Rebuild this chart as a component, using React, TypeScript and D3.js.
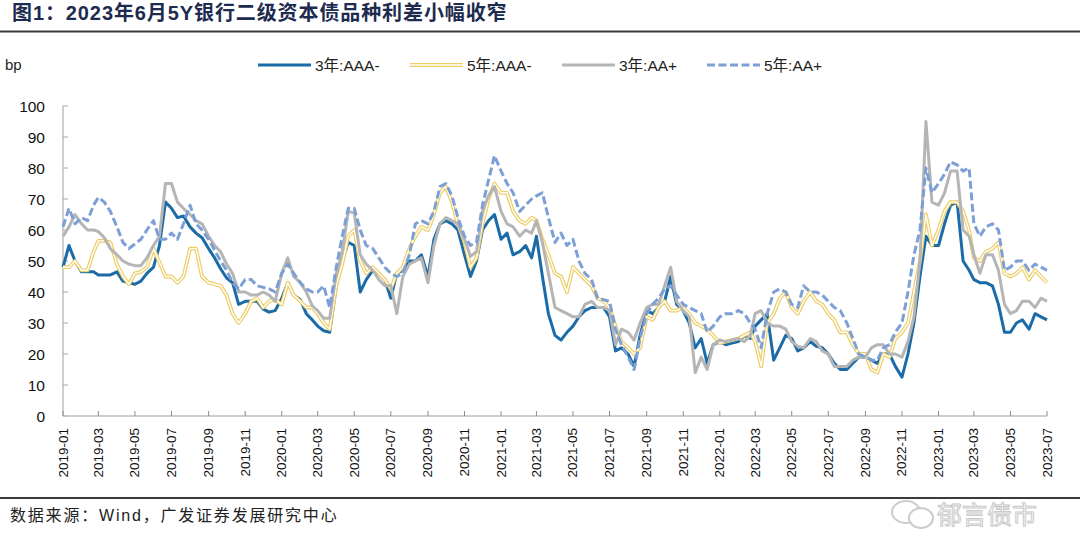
import React from "react";
import * as d3 from "d3";

// ---- categories: one point every ~10 days (1st, 11th, 21st of each month) ----
const N_POINTS = 163;
const DATES: Date[] = d3.range(N_POINTS).map((k) => new Date(2019, Math.floor(k / 3), 1 + (k % 3) * 10));

const Y_TICKS = [0, 10, 20, 30, 40, 50, 60, 70, 80, 90, 100];
const X_TICKS: Date[] = d3.timeMonth.every(2)!.range(new Date(2019, 0, 1), new Date(2023, 7, 1));

const TITLE = "图1：2023年6月5Y银行二级资本债品种利差小幅收窄";
const SOURCE = "数据来源：Wind，广发证券发展研究中心";
const UNIT = "bp";
const WATERMARK = "郁言债市";

// ---- series values (bp) ----
const S_3Y_AAAM = [
  48, 55, 50, 46.5, 46.5, 46.5, 45.5, 45.5, 45.5, 46.5, 43.5, 43, 42.5, 43.5, 46, 48, 55, 69, 67, 64, 64.5, 61, 59, 57.5, 54, 51, 47.5, 44.5, 43, 36, 37, 37, 37, 34.5, 33.5, 34, 38, 43, 39, 37.5, 33,
  31, 29, 27.5, 27, 42, 50, 56, 55, 40, 44, 47, 46, 44, 38, 46, 47, 50, 50, 52, 45, 57, 62, 63, 62, 60, 52, 45, 50, 60, 63, 65, 57, 59, 52, 53, 55, 51, 58, 45, 33, 26,
  24.5, 27, 29, 32, 34, 35, 35, 35, 32, 21, 22, 20, 16, 26, 34, 33, 35, 37, 45, 36, 34, 30, 22, 25, 17, 23, 24, 23, 23.5, 24, 26, 25, 29, 31, 33, 18, 22, 26, 25, 21, 22,
  24, 22.5, 22, 20, 17, 15, 15, 17, 19, 19, 18, 17, 20, 20, 16, 12.5, 20, 30, 45, 58, 55, 55, 62, 68, 69, 50, 47, 44, 43, 43, 42, 36, 27, 27, 30, 31, 28, 33, 32, 31,
];
const S_5Y_AAAM = [
  48, 48, 50, 47, 47, 53, 56.5, 56.5, 56, 49, 45, 42.5, 46, 46.5, 48, 54, 49.5, 45, 45, 43, 45, 54, 54, 45, 43, 42.5, 42, 39, 33, 30, 33, 37, 38, 35, 37, 37.5, 36, 43, 39, 37, 35,
  35, 33, 30, 28, 42, 49, 58, 60, 50, 46, 48, 46, 44, 41, 46, 48, 54, 58, 61, 60, 65, 72, 74, 69, 62, 56, 48, 51, 62, 70, 75, 72, 72, 66, 63, 62, 64, 63, 57, 52, 46,
  45, 40, 48, 46, 44, 42, 38, 37, 35, 29, 24, 22, 20, 22, 32, 31, 35, 37, 34, 34, 35, 33, 30, 29, 28, 26, 23.5, 24, 24.5, 25, 26, 27, 24, 16, 30, 33, 38, 40, 35, 33, 37,
  40, 37, 36, 33, 31, 27, 27, 23, 20, 20, 15, 14, 20, 19, 25, 27, 30, 40, 50, 65, 55, 60, 66, 69, 69, 66, 60, 51, 50, 53, 54, 56, 46, 45, 46, 48, 44, 47, 45, 43,
];
const S_3Y_AAP = [
  58, 61, 65, 62, 60, 60, 59.5, 57.5, 54, 52, 50, 49, 48.5, 48.5, 51, 55, 58, 75, 75, 69, 67, 65, 63, 62, 58, 55, 53, 49, 46, 40, 40, 39, 39, 40, 39, 37, 46, 51, 45, 43, 40,
  35.5, 34, 31.5, 31.5, 46, 53, 66, 65.5, 52, 49, 47, 44, 42, 42, 33, 45, 49, 50, 51, 43, 55, 62, 64, 63, 62, 57, 51.5, 53, 66, 71, 74, 66, 62, 61, 58, 60, 59, 63, 56, 46, 35,
  34, 33, 32, 32, 36, 37, 35, 35, 34, 23, 28, 27, 24.5, 30, 35, 36, 36, 42, 48, 37, 34, 32, 14, 19, 15, 23, 24.5, 24, 24.5, 25, 24, 26, 33, 34, 30, 29, 29, 28, 24, 22.5, 22,
  25, 24, 21, 20, 16, 16, 16, 18, 19, 19, 22, 23, 23, 20, 20, 19, 24, 32, 50, 95, 69, 68, 72, 79, 79, 60, 58, 52, 46, 52, 52, 47, 36, 33, 34, 37, 37, 35, 38, 37,
];
const S_5Y_AAP = [
  61, 67, 62, 64, 63, 68, 70.5, 69, 66, 61, 56, 54, 55.5, 57, 60, 63, 57, 57, 59, 57, 62, 68, 62, 60, 57, 53.5, 50, 47, 43, 41, 44, 44, 42, 41.5, 41, 40, 46, 49, 46, 43, 41,
  40, 40, 42, 35, 48, 58, 67, 67, 60, 55, 54, 51, 48, 46, 45, 46, 52, 62, 63, 62, 66, 74, 75, 71, 64, 58, 55, 56, 68, 76, 84, 79, 75, 72, 66, 68, 70, 71, 72, 64, 56,
  59, 55, 57, 50, 46, 44, 38, 37.5, 37, 28, 23, 19, 15, 25, 33, 36, 38, 41, 42, 39, 36, 35, 34, 33, 27, 29, 32, 33, 33, 34, 33, 30, 28, 22, 33, 40, 41, 40, 36, 35, 42,
  40, 40, 39, 37, 35, 34, 30, 25, 20, 19, 18, 18, 22, 23, 27, 30, 40, 52, 60, 80, 72, 75, 78, 82, 81, 79, 80, 62, 58, 61, 62, 60, 47, 48, 50, 50, 47, 49, 48, 47,
];

const SERIES_NAMES = ["3年:AAA-", "5年:AAA-", "3年:AA+", "5年:AA+"];
const SERIES_VALUES = [S_3Y_AAAM, S_5Y_AAAM, S_3Y_AAP, S_5Y_AAP];

const FONT = "'Liberation Sans', Arial, 'Noto Sans CJK SC', sans-serif";
const BLUE = "#1b6ba8";
const YELLOW = "#eccd66";
const GRAY = "#b5b5b5";
const LBLUE = "#7c9fd5";

type Style = { kind: "solid" | "double" | "dash"; color: string };
const STYLES: Style[] = [
  { kind: "solid", color: BLUE },
  { kind: "double", color: YELLOW },
  { kind: "solid", color: GRAY },
  { kind: "dash", color: LBLUE },
];

function Stroke({ d, st }: { d: string; st: Style }) {
  if (st.kind === "double") {
    return (
      <g>
        <path d={d} fill="none" stroke={st.color} strokeWidth={3.8} strokeLinejoin="round" />
        <path d={d} fill="none" stroke="#ffffff" strokeWidth={1.4} strokeLinejoin="round" />
      </g>
    );
  }
  return (
    <path
      d={d}
      fill="none"
      stroke={st.color}
      strokeWidth={3}
      strokeLinejoin="round"
      strokeDasharray={st.kind === "dash" ? "8,3.5" : undefined}
    />
  );
}

export default function App() {
  const W = 1080;
  const H = 558;
  const x = d3.scaleTime().domain([new Date(2019, 0, 1), new Date(2023, 6, 1)]).range([63, 1047]);
  const y = d3.scaleLinear().domain([0, 100]).range([416, 106]);
  const fmt = d3.timeFormat("%Y-%m");

  const mkLine = (vals: number[]) =>
    d3
      .line<number>()
      .x((_, i) => x(DATES[i]))
      .y((v) => y(v))(vals) || "";

  const legendX = [258, 410, 562, 707];
  const legendY = 65;

  return (
    <div style={{ position: "absolute", left: 0, top: 0, width: W, height: H, background: "#fff" }}>
      <svg width={W} height={H} viewBox={`0 0 ${W} ${H}`} style={{ display: "block" }}>
        <rect x={0} y={0} width={W} height={H} fill="#ffffff" />
        {/* title */}
        <text x={12} y={20} fontFamily={FONT} fontWeight={700} fontSize={20} fill="#1d2b4f" letterSpacing={0.9}>
          {TITLE}
        </text>
        <line x1={0} x2={W} y1={31.5} y2={31.5} stroke="#3a3a3a" strokeWidth={2} />

        {/* unit */}
        <text x={5} y={64} fontFamily={FONT} fontSize={15} fill="#222" dominantBaseline="central">
          {UNIT}
        </text>

        {/* legend */}
        {SERIES_NAMES.map((name, i) => (
          <g key={name}>
            <Stroke d={`M${legendX[i]},${legendY}L${legendX[i] + 53},${legendY}`} st={STYLES[i]} />
            <text
              x={legendX[i] + 57}
              y={legendY}
              fontFamily={FONT}
              fontSize={15.5}
              fill="#222"
              dominantBaseline="central"
            >
              {name}
            </text>
          </g>
        ))}

        {/* y axis */}
        <line x1={63} x2={63} y1={y(100)} y2={y(0)} stroke="#bfbfbf" strokeWidth={1.5} />
        {Y_TICKS.map((t) => (
          <g key={t}>
            <line x1={63} x2={68} y1={y(t)} y2={y(t)} stroke="#a6a6a6" strokeWidth={1} />
            <text
              x={45}
              y={y(t)}
              textAnchor="end"
              dominantBaseline="central"
              fontFamily={FONT}
              fontSize={15.5}
              fill="#111"
            >
              {t}
            </text>
          </g>
        ))}

        {/* x axis */}
        <line x1={63} x2={1047} y1={y(0)} y2={y(0)} stroke="#bfbfbf" strokeWidth={1.5} />
        {X_TICKS.map((d) => (
          <g key={d.getTime()}>
            <line x1={x(d)} x2={x(d)} y1={y(0)} y2={y(0) - 5} stroke="#8c8c8c" strokeWidth={1} />
            <text
              transform={`translate(${x(d)},${y(0) + 12}) rotate(-90)`}
              textAnchor="end"
              dominantBaseline="central"
              fontFamily={FONT}
              fontSize={13.5}
              fill="#111"
            >
              {fmt(d)}
            </text>
          </g>
        ))}

        {/* series */}
        {SERIES_VALUES.map((vals, i) => (
          <Stroke key={i} d={mkLine(vals)} st={STYLES[i]} />
        ))}

        {/* footer */}
        <line x1={0} x2={W} y1={498} y2={498} stroke="#3a3a3a" strokeWidth={2} />
        <text x={10} y={515} fontFamily={FONT} fontSize={16} fill="#222" dominantBaseline="central" letterSpacing={1.8}>
          {SOURCE}
        </text>

        {/* watermark */}
        <g opacity={0.85}>
          <ellipse cx={906} cy={512} rx={14} ry={11} fill="none" stroke="#c4c4c4" strokeWidth={2} />
          <ellipse cx={921} cy={518} rx={12} ry={10} fill="#fff" stroke="#c4c4c4" strokeWidth={2} />
          <text
            x={937}
            y={513}
            fontFamily="'Noto Sans CJK SC', sans-serif"
            fontSize={25}
            fill="#ffffff"
            stroke="#c0c0c0"
            strokeWidth={1}
            dominantBaseline="central"
          >
            {WATERMARK}
          </text>
        </g>
      </svg>
    </div>
  );
}
